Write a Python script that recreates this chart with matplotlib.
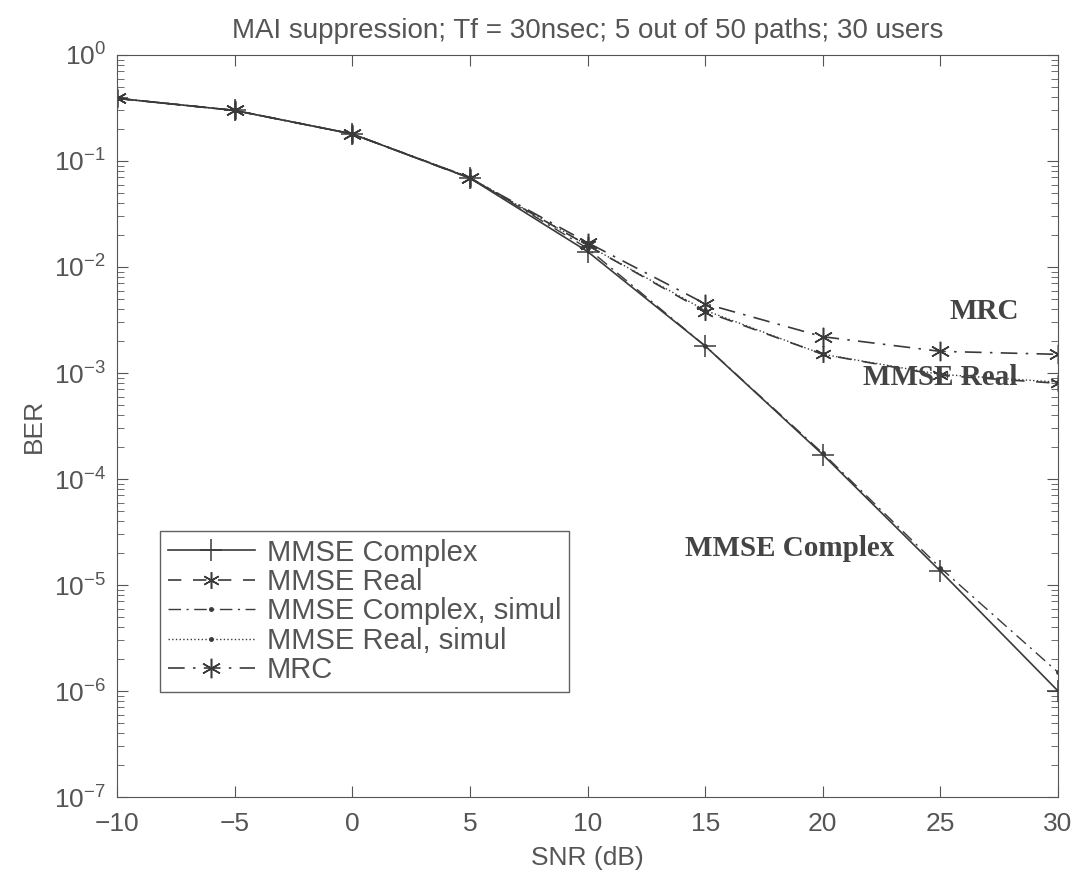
import matplotlib
matplotlib.use("Agg")
import matplotlib.pyplot as plt
from matplotlib.ticker import LogLocator, NullFormatter

snr = [-10, -5, 0, 5, 10, 15, 20, 25, 30]

mmse_complex = [0.39, 0.30, 0.18, 0.069, 0.014, 1.8e-3, 1.7e-4, 1.35e-5, 1.0e-6]
mmse_real = [0.39, 0.30, 0.18, 0.069, 0.016, 3.8e-3, 1.5e-3, 9.5e-4, 8.0e-4]
mmse_complex_sim = [0.39, 0.30, 0.18, 0.070, 0.015, 1.8e-3, 1.75e-4, 1.45e-5, 1.5e-6]
mmse_real_sim = [0.39, 0.30, 0.18, 0.070, 0.016, 3.9e-3, 1.5e-3, 9.7e-4, 8.2e-4]
mrc = [0.39, 0.30, 0.18, 0.069, 0.017, 4.5e-3, 2.2e-3, 1.6e-3, 1.5e-3]

gray = "#555555"
ink = "#3a3a3a"
asterisk = (6, 2, 0)

plt.rcParams["font.family"] = ["Liberation Sans", "DejaVu Sans"]
plt.rcParams["mathtext.fontset"] = "custom"
plt.rcParams["mathtext.rm"] = "Liberation Sans"
plt.rcParams["mathtext.it"] = "Liberation Sans:italic"
plt.rcParams["mathtext.bf"] = "Liberation Sans:bold"

fig = plt.figure(figsize=(10.78, 8.77), dpi=100)
ax = fig.add_axes([0.1085, 0.0912, 0.873, 0.8461])

ax.semilogy(snr, mmse_complex, "-", marker="+", ms=16, mew=1.1, color=ink, lw=1.2,
            label="MMSE Complex")
ax.semilogy(snr, mmse_real, "--", marker=asterisk, ms=12, mew=1.1, dashes=(8, 7),
            color=ink, lw=1.2, label="MMSE Real")
ax.semilogy(snr, mmse_complex_sim, "-.", marker=".", ms=5, color=ink, lw=1.0,
            dashes=(9, 4, 1.5, 4), label="MMSE Complex, simul")
ax.semilogy(snr, mmse_real_sim, ":", marker=".", ms=5, color=ink, lw=1.0,
            label="MMSE Real, simul")
ax.semilogy(snr, mrc, "-.", marker=asterisk, ms=14, mew=1.1, color=ink, lw=1.2,
            dashes=(10, 5, 1.5, 5), label="MRC")

ax.set_xlim(-10, 30)
ax.set_ylim(1e-7, 1)
ax.set_xticks(range(-10, 31, 5))
ax.yaxis.set_major_locator(LogLocator(base=10, numticks=10))
ax.yaxis.set_minor_locator(LogLocator(base=10, subs=range(2, 10), numticks=100))
ax.yaxis.set_minor_formatter(NullFormatter())

ax.tick_params(which="both", direction="in", top=True, right=True,
               labelsize=19, colors=gray, labelcolor=gray)
ax.tick_params(axis="x", pad=11)
ax.tick_params(axis="y", pad=8)
ax.tick_params(which="major", length=8)
ax.tick_params(which="minor", length=5)
for s in ax.spines.values():
    s.set_color(gray)

ax.set_xlabel("SNR (dB)", fontsize=19, color=gray, labelpad=7)
ax.set_ylabel("BER", fontsize=19, color=gray, labelpad=6)
ax.set_title("MAI suppression; Tf = 30nsec; 5 out of 50 paths; 30 users",
             fontsize=20, color=gray, pad=12)

serif = dict(family=["Liberation Serif", "DejaVu Serif"], fontweight="bold",
             fontsize=21, color="#444444", ha="center", va="center")
ax.text(26.85, 3.8e-3, "MRC", **serif)
ax.text(25.0, 0.9e-3, "MMSE Real", **serif)
ax.text(18.6, 2.2e-5, "MMSE Complex", **serif)

leg = ax.legend(loc="lower left", bbox_to_anchor=(0.046, 0.142), fontsize=21,
                frameon=True, fancybox=False, handlelength=3.0,
                borderpad=0.25, labelspacing=0.05, handletextpad=0.4,
                borderaxespad=0)
leg.get_frame().set_edgecolor(ink)
leg.get_frame().set_linewidth(1.0)
for t in leg.get_texts():
    t.set_color(gray)

fig.savefig("out.png", dpi=100)
